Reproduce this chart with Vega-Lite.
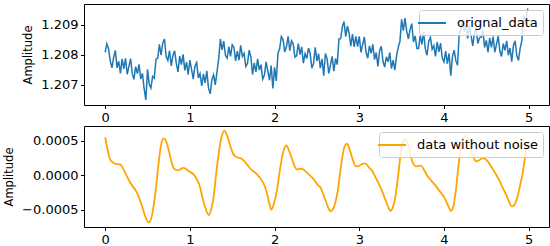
{
"$schema": "https://vega.github.io/schema/vega-lite/v6.json",
"padding": {"left": 3, "top": 3, "right": 2, "bottom": 0},
"spacing": 0,
"config": {
 "font": "DejaVu Sans",
 "view": {"stroke": "#000", "strokeWidth": 1},
 "axis": {"domain": false, "grid": false, "tickColor": "#000", "tickSize": 3.5, "labelFontSize": 13, "labelColor": "#000", "labelPadding": 2.5, "titleFontSize": 11.5, "titleFontWeight": "normal", "titleColor": "#000", "titlePadding": 7},
 "legend": {"orient": "top-right", "offset": 6, "padding": 5, "fillColor": "rgba(255,255,255,0.8)", "strokeColor": "#cccccc", "cornerRadius": 3, "symbolType": "M-2,0H2", "symbolSize": 196, "symbolStrokeWidth": 2, "labelFontSize": 13, "labelColor": "#000", "labelOffset": 17, "title": null}
},
"resolve": {"scale": {"color": "independent"}, "legend": {"color": "independent"}},
"vconcat": [
{
 "width": 465, "height": 101,
 "data": {"values": [
{"t":0,"v":1.20808},{"t":0.02,"v":1.20836},{"t":0.04,"v":1.2082},{"t":0.06,"v":1.20779},{"t":0.08,"v":1.20756},{"t":0.1,"v":1.20791},{"t":0.12,"v":1.20814},{"t":0.14,"v":1.20756},{"t":0.16,"v":1.20778},{"t":0.18,"v":1.20738},
{"t":0.2,"v":1.20786},{"t":0.22,"v":1.20753},{"t":0.24,"v":1.20788},{"t":0.26,"v":1.20735},{"t":0.28,"v":1.2076},{"t":0.3,"v":1.20787},{"t":0.32,"v":1.20737},{"t":0.34,"v":1.20718},{"t":0.36,"v":1.2076},{"t":0.38,"v":1.20737},
{"t":0.4,"v":1.20768},{"t":0.42,"v":1.20719},{"t":0.44,"v":1.20738},{"t":0.46,"v":1.20687},{"t":0.48,"v":1.2065},{"t":0.5,"v":1.20751},{"t":0.52,"v":1.20702},{"t":0.54,"v":1.20689},{"t":0.56,"v":1.20728},{"t":0.58,"v":1.20722},
{"t":0.6,"v":1.20785},{"t":0.62,"v":1.20788},{"t":0.64,"v":1.20834},{"t":0.66,"v":1.20798},{"t":0.68,"v":1.20839},{"t":0.7,"v":1.20852},{"t":0.72,"v":1.20794},{"t":0.74,"v":1.20781},{"t":0.76,"v":1.20813},{"t":0.78,"v":1.20763},
{"t":0.8,"v":1.20797},{"t":0.82,"v":1.20813},{"t":0.84,"v":1.20771},{"t":0.86,"v":1.20743},{"t":0.88,"v":1.20795},{"t":0.9,"v":1.20767},{"t":0.92,"v":1.20801},{"t":0.94,"v":1.20748},{"t":0.96,"v":1.20775},{"t":0.98,"v":1.20734},
{"t":1,"v":1.20782},{"t":1.02,"v":1.20751},{"t":1.04,"v":1.20719},{"t":1.06,"v":1.20762},{"t":1.08,"v":1.20774},{"t":1.1,"v":1.20723},{"t":1.12,"v":1.20737},{"t":1.14,"v":1.20696},{"t":1.16,"v":1.20736},{"t":1.18,"v":1.20706},
{"t":1.2,"v":1.20746},{"t":1.22,"v":1.20689},{"t":1.24,"v":1.2067},{"t":1.26,"v":1.20717},{"t":1.28,"v":1.20733},{"t":1.3,"v":1.207},{"t":1.32,"v":1.20743},{"t":1.34,"v":1.20785},{"t":1.36,"v":1.20852},{"t":1.38,"v":1.20816},
{"t":1.4,"v":1.20845},{"t":1.42,"v":1.20798},{"t":1.44,"v":1.20788},{"t":1.46,"v":1.20827},{"t":1.48,"v":1.20794},{"t":1.5,"v":1.20833},{"t":1.52,"v":1.20824},{"t":1.54,"v":1.20779},{"t":1.56,"v":1.20812},{"t":1.58,"v":1.20782},
{"t":1.6,"v":1.20831},{"t":1.62,"v":1.20794},{"t":1.64,"v":1.20804},{"t":1.66,"v":1.20761},{"t":1.68,"v":1.20771},{"t":1.7,"v":1.20815},{"t":1.72,"v":1.20793},{"t":1.74,"v":1.20734},{"t":1.76,"v":1.20773},{"t":1.78,"v":1.20743},
{"t":1.8,"v":1.20786},{"t":1.82,"v":1.20749},{"t":1.84,"v":1.20767},{"t":1.86,"v":1.20719},{"t":1.88,"v":1.20732},{"t":1.9,"v":1.20776},{"t":1.92,"v":1.20745},{"t":1.94,"v":1.20715},{"t":1.96,"v":1.20764},{"t":1.98,"v":1.20688},
{"t":2,"v":1.20758},{"t":2.02,"v":1.20713},{"t":2.04,"v":1.20805},{"t":2.06,"v":1.2082},{"t":2.08,"v":1.2086},{"t":2.1,"v":1.2085},{"t":2.12,"v":1.20809},{"t":2.14,"v":1.20826},{"t":2.16,"v":1.20861},{"t":2.18,"v":1.20813},
{"t":2.2,"v":1.20846},{"t":2.22,"v":1.20836},{"t":2.24,"v":1.20792},{"t":2.26,"v":1.20796},{"t":2.28,"v":1.20837},{"t":2.3,"v":1.208},{"t":2.32,"v":1.20826},{"t":2.34,"v":1.20772},{"t":2.36,"v":1.20803},{"t":2.38,"v":1.20787},
{"t":2.4,"v":1.20822},{"t":2.42,"v":1.20805},{"t":2.44,"v":1.20755},{"t":2.46,"v":1.20771},{"t":2.48,"v":1.20824},{"t":2.5,"v":1.20779},{"t":2.52,"v":1.20803},{"t":2.54,"v":1.20755},{"t":2.56,"v":1.20786},{"t":2.58,"v":1.2073},
{"t":2.6,"v":1.20804},{"t":2.62,"v":1.20786},{"t":2.64,"v":1.20738},{"t":2.66,"v":1.20766},{"t":2.68,"v":1.20794},{"t":2.7,"v":1.20745},{"t":2.72,"v":1.20787},{"t":2.74,"v":1.20767},{"t":2.76,"v":1.20852},{"t":2.78,"v":1.20853},
{"t":2.8,"v":1.20892},{"t":2.82,"v":1.2091},{"t":2.84,"v":1.2086},{"t":2.86,"v":1.20895},{"t":2.88,"v":1.20871},{"t":2.9,"v":1.20828},{"t":2.92,"v":1.20868},{"t":2.94,"v":1.20826},{"t":2.96,"v":1.20861},{"t":2.98,"v":1.20827},
{"t":3,"v":1.20861},{"t":3.02,"v":1.20808},{"t":3.04,"v":1.20833},{"t":3.06,"v":1.20859},{"t":3.08,"v":1.20808},{"t":3.1,"v":1.20788},{"t":3.12,"v":1.20829},{"t":3.14,"v":1.20804},{"t":3.16,"v":1.20834},{"t":3.18,"v":1.20784},
{"t":3.2,"v":1.20807},{"t":3.22,"v":1.20761},{"t":3.24,"v":1.20813},{"t":3.26,"v":1.20828},{"t":3.28,"v":1.20777},{"t":3.3,"v":1.20759},{"t":3.32,"v":1.20793},{"t":3.34,"v":1.20776},{"t":3.36,"v":1.20807},{"t":3.38,"v":1.20754},
{"t":3.4,"v":1.20782},{"t":3.42,"v":1.20749},{"t":3.44,"v":1.20796},{"t":3.46,"v":1.20824},{"t":3.48,"v":1.20844},{"t":3.5,"v":1.20917},{"t":3.52,"v":1.2088},{"t":3.54,"v":1.20921},{"t":3.56,"v":1.20878},{"t":3.58,"v":1.20852},
{"t":3.6,"v":1.20884},{"t":3.62,"v":1.20903},{"t":3.64,"v":1.20842},{"t":3.66,"v":1.20862},{"t":3.68,"v":1.2082},{"t":3.7,"v":1.2082},{"t":3.72,"v":1.20863},{"t":3.74,"v":1.20834},{"t":3.76,"v":1.20875},{"t":3.78,"v":1.20818},
{"t":3.8,"v":1.20798},{"t":3.82,"v":1.20844},{"t":3.84,"v":1.20857},{"t":3.86,"v":1.20818},{"t":3.88,"v":1.2083},{"t":3.9,"v":1.20794},{"t":3.92,"v":1.20842},{"t":3.94,"v":1.20809},{"t":3.96,"v":1.20838},{"t":3.98,"v":1.20789},
{"t":4,"v":1.20776},{"t":4.02,"v":1.20812},{"t":4.04,"v":1.2077},{"t":4.06,"v":1.20804},{"t":4.08,"v":1.2073},{"t":4.1,"v":1.20794},{"t":4.12,"v":1.20815},{"t":4.14,"v":1.2078},{"t":4.16,"v":1.20765},{"t":4.18,"v":1.2087},
{"t":4.2,"v":1.20885},{"t":4.22,"v":1.20915},{"t":4.24,"v":1.20877},{"t":4.26,"v":1.209},{"t":4.28,"v":1.20854},{"t":4.3,"v":1.20897},{"t":4.32,"v":1.20863},{"t":4.34,"v":1.20829},{"t":4.36,"v":1.20872},{"t":4.38,"v":1.20885},
{"t":4.4,"v":1.20837},{"t":4.42,"v":1.20856},{"t":4.44,"v":1.20858},{"t":4.46,"v":1.20881},{"t":4.48,"v":1.20824},{"t":4.5,"v":1.20847},{"t":4.52,"v":1.20808},{"t":4.54,"v":1.20856},{"t":4.56,"v":1.20824},{"t":4.58,"v":1.2086},
{"t":4.6,"v":1.20808},{"t":4.62,"v":1.20834},{"t":4.64,"v":1.20861},{"t":4.66,"v":1.20812},{"t":4.68,"v":1.20794},{"t":4.7,"v":1.20837},{"t":4.72,"v":1.20814},{"t":4.74,"v":1.20846},{"t":4.76,"v":1.20798},{"t":4.78,"v":1.20822},
{"t":4.8,"v":1.20777},{"t":4.82,"v":1.2083},{"t":4.84,"v":1.20846},{"t":4.86,"v":1.20796},{"t":4.88,"v":1.20781},{"t":4.9,"v":1.20822},{"t":4.92,"v":1.20847},{"t":4.94,"v":1.2093},{"t":4.96,"v":1.20903},{"t":4.98,"v":1.20941},
{"t":4.99,"v":1.20953}
 ]},
 "mark": {"type": "line", "strokeWidth": 1.5},
 "encoding": {
  "x": {"field": "t", "type": "quantitative", "scale": {"domain": [-0.25, 5.24], "nice": false, "zero": false}, "axis": {"values": [0,1,2,3,4,5], "format": "d", "title": null}},
  "y": {"field": "v", "type": "quantitative", "scale": {"domain": [1.20633, 1.20968], "nice": false, "zero": false}, "axis": {"values": [1.207, 1.208, 1.209], "format": ".3f", "title": "Amplitude"}},
  "color": {"datum": "orignal_data", "type": "nominal", "scale": {"range": ["#1f77b4"]}}
 }
},
{
 "width": 465, "height": 101,
 "data": {"values": [
{"t":0,"v":0.000549},{"t":0.03,"v":0.00036},{"t":0.06,"v":0.000223},{"t":0.118,"v":0.000166},{"t":0.18,"v":0.000152},{"t":0.237,"v":0.000033},{"t":0.296,"v":-0.00011},{"t":0.375,"v":-0.000254},{"t":0.434,"v":-0.000444},{"t":0.475,"v":-0.0006},
{"t":0.513,"v":-0.000683},{"t":0.545,"v":-0.00062},{"t":0.572,"v":-0.000444},{"t":0.6,"v":-0.00018},{"t":0.631,"v":0.000176},{"t":0.66,"v":0.00044},{"t":0.69,"v":0.000534},{"t":0.72,"v":0.00049},{"t":0.749,"v":0.000367},{"t":0.78,"v":0.00021},
{"t":0.808,"v":0.000105},{"t":0.838,"v":0.000075},{"t":0.868,"v":0.00007},{"t":0.9,"v":0.000095},{"t":0.927,"v":0.000105},{"t":0.955,"v":0.00009},{"t":0.986,"v":0.00006},{"t":1.04,"v":0.000015},{"t":1.085,"v":-0.000063},{"t":1.115,"v":-0.00015},
{"t":1.144,"v":-0.0003},{"t":1.18,"v":-0.00046},{"t":1.223,"v":-0.000578},{"t":1.25,"v":-0.0005},{"t":1.282,"v":-0.0003},{"t":1.31,"v":0.00002},{"t":1.341,"v":0.00032},{"t":1.375,"v":0.00056},{"t":1.408,"v":0.000645},{"t":1.44,"v":0.00057},
{"t":1.479,"v":0.000415},{"t":1.51,"v":0.00031},{"t":1.538,"v":0.000272},{"t":1.568,"v":0.000255},{"t":1.598,"v":0.000248},{"t":1.635,"v":0.00021},{"t":1.677,"v":0.000152},{"t":1.725,"v":0.00008},{"t":1.775,"v":0.000033},{"t":1.815,"v":-0.00002},
{"t":1.854,"v":-0.000086},{"t":1.885,"v":-0.00016},{"t":1.913,"v":-0.000278},{"t":1.94,"v":-0.00042},{"t":1.961,"v":-0.0005},{"t":1.99,"v":-0.00042},{"t":2.03,"v":-0.000206},{"t":2.06,"v":0.00005},{"t":2.09,"v":0.000272},{"t":2.115,"v":0.00039},
{"t":2.138,"v":0.00043},{"t":2.17,"v":0.00036},{"t":2.209,"v":0.000223},{"t":2.24,"v":0.00012},{"t":2.268,"v":0.00008},{"t":2.3,"v":0.000095},{"t":2.327,"v":0.00009},{"t":2.375,"v":0.000045},{"t":2.426,"v":-0.000014},{"t":2.465,"v":-0.00006},
{"t":2.505,"v":-0.000135},{"t":2.544,"v":-0.000182},{"t":2.575,"v":-0.00028},{"t":2.604,"v":-0.000373},{"t":2.63,"v":-0.00046},{"t":2.66,"v":-0.00052},{"t":2.69,"v":-0.00049},{"t":2.72,"v":-0.00038},{"t":2.75,"v":-0.0002},{"t":2.775,"v":0.00005},
{"t":2.801,"v":0.000272},{"t":2.828,"v":0.00042},{"t":2.855,"v":0.000455},{"t":2.878,"v":0.0004},{"t":2.899,"v":0.00032},{"t":2.93,"v":0.0002},{"t":2.959,"v":0.000129},{"t":2.99,"v":0.00013},{"t":3.018,"v":0.000152},{"t":3.047,"v":0.000166},
{"t":3.077,"v":0.000166},{"t":3.115,"v":0.00011},{"t":3.156,"v":0.000057},{"t":3.195,"v":-0.00004},{"t":3.235,"v":-0.000135},{"t":3.275,"v":-0.00025},{"t":3.314,"v":-0.000373},{"t":3.345,"v":-0.00047},{"t":3.368,"v":-0.000515},{"t":3.395,"v":-0.00047},
{"t":3.425,"v":-0.00032},{"t":3.46,"v":0},{"t":3.49,"v":0.00032},{"t":3.52,"v":0.00049},{"t":3.55,"v":0.00052},{"t":3.58,"v":0.00043},{"t":3.609,"v":0.000272},{"t":3.64,"v":0.00016},{"t":3.669,"v":0.000129},{"t":3.7,"v":0.000135},
{"t":3.728,"v":0.000138},{"t":3.765,"v":0.000075},{"t":3.807,"v":-0.000014},{"t":3.855,"v":-0.000085},{"t":3.905,"v":-0.000158},{"t":3.955,"v":-0.00024},{"t":4.004,"v":-0.000325},{"t":4.045,"v":-0.00043},{"t":4.083,"v":-0.000516},{"t":4.11,"v":-0.00045},
{"t":4.142,"v":-0.000206},{"t":4.17,"v":0.00012},{"t":4.201,"v":0.00039},{"t":4.225,"v":0.00053},{"t":4.255,"v":0.00057},{"t":4.28,"v":0.00054},{"t":4.31,"v":0.0004},{"t":4.345,"v":0.00027},{"t":4.379,"v":0.0002},{"t":4.42,"v":0.00022},
{"t":4.458,"v":0.000248},{"t":4.49,"v":0.00023},{"t":4.517,"v":0.0002},{"t":4.565,"v":0.00011},{"t":4.615,"v":0.00001},{"t":4.655,"v":-0.00008},{"t":4.694,"v":-0.000182},{"t":4.74,"v":-0.0003},{"t":4.77,"v":-0.00039},{"t":4.8,"v":-0.00045},
{"t":4.825,"v":-0.00044},{"t":4.85,"v":-0.00038},{"t":4.875,"v":-0.00028},{"t":4.9,"v":-0.00014},{"t":4.931,"v":0.00004},{"t":4.95,"v":0.0002},{"t":4.97,"v":0.00037},{"t":4.99,"v":0.00049}
 ]},
 "mark": {"type": "line", "strokeWidth": 1.8, "interpolate": "monotone"},
 "encoding": {
  "x": {"field": "t", "type": "quantitative", "scale": {"domain": [-0.25, 5.24], "nice": false, "zero": false}, "axis": {"values": [0,1,2,3,4,5], "format": "d", "title": null}},
  "y": {"field": "v", "type": "quantitative", "scale": {"domain": [-0.00075, 0.000712], "nice": false, "zero": false}, "axis": {"values": [-0.0005, 0, 0.0005], "format": ".4f", "title": "Amplitude"}},
  "color": {"datum": "data without noise", "type": "nominal", "scale": {"range": ["#ffa500"]}}
 }
}
]
}
